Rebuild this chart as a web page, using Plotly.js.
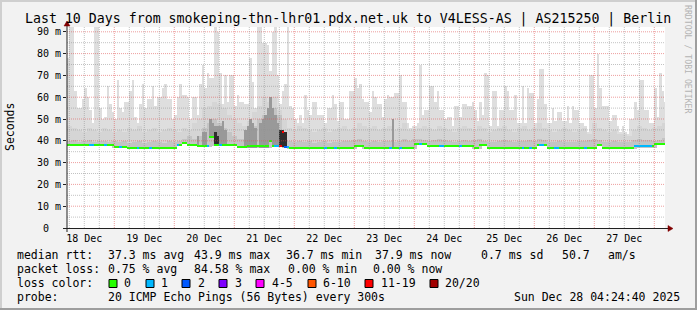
<!DOCTYPE html>
<html><head><meta charset="utf-8">
<script src="https://cdn.plot.ly/plotly-3.0.1.min.js"></script>
<style>html,body{margin:0;padding:0;background:#f2f2f2;}#chart{width:697px;height:310px;}</style>
</head><body><div id="chart"></div>
<script>
// ---------- data (hourly columns start at Dec 18 05:00) ----------
const firstHour = 5; // hours after 2025-12-18 00:00
const median = [
 37.9,37.9,37.9,37.9,37.9,37.9,37.9,37.9,37.9,37.9,37.9,37.9,37.9,37.9,37.9,37.9,37.9,37.9,37.9,37.2,37.2,37.2,37.2,37.2,
 36.8,36.8,36.8,36.8,36.8,36.8,36.8,36.8,36.8,36.8,36.8,36.8,36.8,36.8,36.8,36.8,36.8,36.8,36.8,36.8,38.2,38.2,39.2,39.2,
 38.0,38.0,38.0,38.0,37.7,37.7,37.7,37.7,37.7,41.6,41.6,37.9,37.9,37.9,37.9,37.9,37.9,37.9,37.9,37.9,37.1,37.1,37.1,37.1,
 37.4,37.4,37.4,37.4,37.4,37.4,37.4,37.4,37.4,40.1,37.7,37.7,37.7,37.6,43.9,37.3,37.0,36.8,36.8,36.8,36.8,36.8,36.8,36.8,
 36.8,36.8,36.8,36.8,36.8,36.8,36.8,36.8,36.8,36.8,36.8,36.8,36.8,36.8,36.8,36.8,36.8,36.8,36.8,37.7,37.7,37.7,37.7,36.8,
 36.8,36.8,36.8,36.8,36.8,36.8,36.8,36.8,36.8,36.8,36.8,36.8,36.8,36.8,36.8,36.8,36.8,36.8,36.8,38.7,38.7,38.7,38.7,38.7,
 37.6,37.6,37.6,37.6,37.6,37.6,37.6,37.6,37.6,37.6,37.6,37.6,37.6,37.6,37.6,37.6,37.6,37.6,37.6,36.8,36.8,37.9,37.9,37.9,
 36.8,36.8,36.8,36.8,36.8,36.8,36.8,36.8,36.8,36.8,36.8,36.8,36.8,36.8,36.8,36.8,36.8,36.8,36.8,36.8,38.0,38.0,38.0,38.0,
 36.8,36.8,36.8,36.8,36.8,36.8,36.8,36.8,36.8,36.8,36.8,36.8,36.8,36.8,36.8,36.8,36.8,36.8,36.8,36.8,37.9,37.9,36.8,36.8,
 36.8,36.8,36.8,36.8,36.8,36.8,36.8,36.8,36.8,36.8,36.8,37.4,37.4,37.4,37.4,37.4,37.4,37.4,37.4,38.5,38.5,38.5,38.5,38.5
];
const loss = [
 0,0,0,0,0,0,0,0,0,1,1,0,0,0,0,1,0,0,0,0,0,1,0,0,
 0,0,0,0,1,0,0,0,0,1,0,0,0,0,0,0,0,0,0,0,1,0,0,0,
 0,0,0,0,0,0,0,0,1,0,0,0,0,1,0,0,0,0,0,0,0,0,0,0,
 0,0,0,0,0,0,0,0,0,0,0,1,1,12,17,2,1,0,0,0,0,0,0,0,
 0,0,0,0,0,0,0,1,0,0,0,1,0,0,0,0,0,0,0,0,0,0,0,0,
 0,0,0,0,0,0,0,0,0,1,0,0,0,1,0,0,0,0,0,0,0,1,0,0,
 0,0,0,0,0,1,1,0,0,0,0,0,0,1,0,0,0,0,0,0,0,0,0,0,
 0,0,0,0,0,0,0,0,0,0,0,0,0,0,1,0,0,1,0,0,0,1,1,0,
 0,0,0,1,1,0,0,0,0,0,0,0,0,0,0,1,0,0,0,0,0,0,0,0,
 0,0,0,0,0,0,0,0,0,0,0,1,1,1,1,1,1,1,0,0,0,0,0,0
];
const smokeMax = [
 78,92,92,63,55,55,59,64,60,54,48,92,92,55,50,51,65,57,53,50,68,55,53,58,
 58,63,68,51,48,57,66,55,59,59,65,56,60,60,64,66,59,59,50,52,60,66,61,61,
 60,50,60,60,52,66,75,64,71,69,69,92,90,71,57,70,58,70,70,56,61,58,58,57,
 57,78,67,55,92,92,85,85,84,72,90,92,70,57,63,66,92,56,55,50,48,52,48,61,
 54,52,58,58,52,52,52,48,55,55,61,57,49,58,58,50,50,63,63,69,64,66,59,58,
 58,53,63,60,57,57,51,59,61,60,60,62,62,70,58,58,48,46,47,47,48,75,52,54,
 54,65,65,58,63,54,54,50,51,51,47,56,56,51,57,57,56,56,58,54,49,58,52,71,
 70,47,63,63,47,54,54,65,63,54,54,61,48,48,65,48,64,62,62,48,59,73,73,57,
 48,48,55,49,53,53,49,49,56,48,56,54,54,48,48,47,44,70,70,55,80,64,56,56,
 56,49,52,52,47,44,47,44,43,50,50,58,54,68,68,54,54,48,48,64,51,71,63,58
];
// two-hour columns (start at Dec 18 05:00)
const smokeMid = [
 47,46,45,44,46,45,44,46,45,44,
 45,44,46,45,47,44,45,46,44,45,
 46,45,44,46,45,48,50,55,56,58,
 57,55,52,50,48,47,49,53,56,60,
 58,60,54,50,46,45,47,46,45,44,
 45,46,44,45,46,47,45,46,48,47,
 46,47,45,46,47,45,46,48,45,45,
 46,47,46,45,47,46,45,44,46,47,
 46,45,47,46,44,45,46,47,45,44,
 46,47,45,46,48,46,45,44,45,46,
 45,44,45,46,43,48,46,45,44,45,
 43,43,42,45,47,46,45,46,47,48
];
const smokeLow = [
 40,40.5,39.5,40,40.5,39.5,40,40,39.5,40,
 39.5,40,39,39.5,40,39,39.5,40,39.5,39,
 40,39.5,40,41,42,41,42,46,48,50,
 48,46,44,42,41,41,43,47,50,52,
 50,55,52,42,40,39.5,40,39.5,40,39,
 39.5,40,39,39.5,39.5,40,40,40.5,41,40,
 39.5,40,39.5,40,40,39.5,40,41,40,41,
 41,40.5,40,40.5,41,40.5,40,39.5,40,40.5,
 40,40.5,41,40,39.5,39.5,40,40.5,40,39.5,
 40,40,40.5,40,41,40.5,39.5,39.5,40,39.5,
 39.5,39.5,40,40,40.5,41,40.5,39.5,39.5,40,
 39.5,39.5,39.5,40.5,41,40.5,40.5,40,40.5,41.5
];
const darkHours = [57,59,60,62,63,64,65,66,67,68,76,77,78,79,80,82,83,84,85,86,87,88,89,135];
const darkTop   = [42,44,44,50,48,47,47,47,49,45,45,47,50,48,46,48,50,52,55,60,55,52,48,50];
const blackHours = [64,65,90,91,92];
const blackBottom = [38,38,37,37,37];
const blackTop    = [44,42,45,45,44];

const dayTicks  = ['2025-12-18','2025-12-19','2025-12-20','2025-12-21','2025-12-22','2025-12-23','2025-12-24','2025-12-25','2025-12-26','2025-12-27'];
const dayLabels = ['18 Dec','19 Dec','20 Dec','21 Dec','22 Dec','23 Dec','24 Dec','25 Dec','26 Dec','27 Dec'];
const yTicks  = [0,10,20,30,40,50,60,70,80,90];
const yLabels = ['0<span style="color:rgba(0,0,0,0)"> m</span>','10 m','20 m','30 m','40 m','50 m','60 m','70 m','80 m','90 m'];

const lossNames  = ['0','1','2','3','4-5','6-10','11-19','20/20'];
const lossColors = ['#26ff00','#00b8ff','#0059ff','#7e00ff','#ff00ff','#ff5500','#ff0000','#a10000'];

const titleText = 'Last 10 Days from smokeping-thn-lhr01.pdx.net.uk to V4LESS-AS | AS215250 | Berlin';
const rttStats  = ['median rtt:','37.3 ms avg','43.9 ms max','36.7 ms min','37.9 ms now','0.7 ms sd','50.7','am/s'];
const lossStats = ['packet loss:','0.75 % avg','84.58 % max','0.00 % min','0.00 % now'];
const probeText = ['probe:','20 ICMP Echo Pings (56 Bytes) every 300s','Sun Dec 28 04:24:40 2025'];

// ---------- helpers ----------
const H0 = Date.UTC(2025, 11, 18);
function t(h){ return new Date(H0 + h*3600000).toISOString().slice(0,19).replace('T',' '); }
function lossIdx(n){ if(n<=0)return 0; if(n===1)return 1; if(n===2)return 2; if(n===3)return 3; if(n<=5)return 4; if(n<=10)return 5; if(n<=19)return 6; return 7; }
const L=67, R=665, T=27, B=228;
const PX = x => (x-L)/(R-L);
const PY = y => (B-y)/(B-T);
const MONO = 'DejaVu Sans Mono, monospace';

// ---------- traces ----------
const hx = median.map((_,i)=>t(firstHour+i+0.5));
const hb = median.map(m=>m-0.5);
function bar(x, base, top, color, width){
  return {type:'bar', x:x, base:base, y:top.map((v,i)=>v-base[i]), width:width,
    marker:{color:color, line:{width:0}}, hoverinfo:'skip', showlegend:false};
}
const x2 = smokeMid.map((_,j)=>t(firstHour+2*j+1));
const b2 = smokeMid.map((_,j)=>Math.min(median[2*j], median[Math.min(2*j+1,median.length-1)])-0.5);
const traces = [
  bar(hx, hb, smokeMax, '#dedede', 3600000),
  bar(x2, b2, smokeMid, '#d5d5d5', 7200000),
  bar(x2, b2, smokeLow, '#c4c4c4', 7200000),
  bar(darkHours.map(h=>t(h+0.5)), darkHours.map(h=>median[h-firstHour]-0.5), darkTop, '#999999', 3600000),
  bar(blackHours.map(h=>t(h+0.5)), blackBottom, blackTop, '#2e2e2e', 3600000),
  {type:'bar', x:hx, base:median.map(m=>m-0.47), y:median.map(()=>0.95), width:3600000,
   marker:{color:loss.map(n=>lossColors[lossIdx(n)]), line:{width:0}}, hoverinfo:'skip', showlegend:false}
];

// ---------- shapes ----------
const shapes = [];
const gridGray = 'rgba(143,143,143,0.55)', gridRed = 'rgba(222,79,79,0.55)';
for(let v=5; v<=90; v+=5){
  shapes.push({type:'line', layer:'above', xref:'paper', yref:'y', x0:0, x1:1, y0:v, y1:v,
    line:{color: v%10===0?gridRed:gridGray, width:1, dash:'1px,1px'}});
}
for(let h=6; h<=240; h+=6){
  shapes.push({type:'line', layer:'above', xref:'x', yref:'paper', x0:t(h), x1:t(h), y0:0, y1:1,
    line:{color: h%24===0?gridRed:gridGray, width:1, dash:'1px,1px'}});
}
// axes with arrows
shapes.push({type:'line', layer:'above', xref:'paper', yref:'paper', x0:PX(63), x1:PX(669), y0:PY(228.5), y1:PY(228.5), line:{color:'#212121', width:1}});
shapes.push({type:'line', layer:'above', xref:'paper', yref:'paper', x0:PX(67), x1:PX(67), y0:PY(232), y1:PY(25), line:{color:'#212121', width:1}});
shapes.push({type:'path', layer:'above', xref:'paper', yref:'paper',
  path:`M ${PX(668)} ${PY(225.5)} L ${PX(673)} ${PY(228.5)} L ${PX(668)} ${PY(231.5)} Z`, fillcolor:'#800000', line:{color:'#800000', width:0.5}});
shapes.push({type:'path', layer:'above', xref:'paper', yref:'paper',
  path:`M ${PX(64)} ${PY(26)} L ${PX(67)} ${PY(21)} L ${PX(70)} ${PY(26)} Z`, fillcolor:'#800000', line:{color:'#800000', width:0.5}});
// frame
shapes.push({type:'line', xref:'paper', yref:'paper', x0:PX(0), x1:PX(697), y0:PY(1), y1:PY(1), line:{color:'#cfcfcf', width:2}});
shapes.push({type:'line', xref:'paper', yref:'paper', x0:PX(1), x1:PX(1), y0:PY(0), y1:PY(310), line:{color:'#cfcfcf', width:2}});
shapes.push({type:'line', xref:'paper', yref:'paper', x0:PX(0), x1:PX(697), y0:PY(309), y1:PY(309), line:{color:'#9e9e9e', width:2}});
shapes.push({type:'line', xref:'paper', yref:'paper', x0:PX(696), x1:PX(696), y0:PY(0), y1:PY(310), line:{color:'#9e9e9e', width:2}});

// ---------- annotations ----------
const ann = [];
function txt(x, y, s, size, opts){
  ann.push(Object.assign({xref:'paper', yref:'paper', x:PX(x), y:PY(y), text:s, showarrow:false,
    xanchor:'left', yanchor:'middle', borderpad:0, font:{family:MONO, size:size, color:'#000'}}, opts||{}));
}
txt(348, 19, titleText, 13.25, {xanchor:'center'});
txt(10, 127, 'Seconds', 11.5, {xanchor:'center', textangle:-90});
txt(688, 59, 'RRDTOOL / TOBI OETIKER', 8.2, {xanchor:'center', textangle:90, font:{family:MONO, size:8.2, color:'#b4b4b4'}});
const rttX = [16,107,193,285,374,480,561,607];
rttStats.forEach((s,i)=>txt(rttX[i], 255, s, 11.5));
const lossX = [16,107,193,287,372];
lossStats.forEach((s,i)=>txt(lossX[i], 269, s, 11.5));
txt(16, 283, 'loss color:', 11.5);
const boxX = [109,146,182,219,256,308,365,430];
const lblX = [123,160,197,234,271,322,380,444];
lossNames.forEach((s,i)=>{
  txt(lblX[i], 283, s, 11.5);
  shapes.push({type:'rect', xref:'paper', yref:'paper', x0:PX(boxX[i]), x1:PX(boxX[i]+8), y0:PY(287.5), y1:PY(279.5),
    fillcolor:lossColors[i], line:{color:'#000', width:1}});
});
const probeX = [16,107,513];
probeText.forEach((s,i)=>txt(probeX[i], 297, s, 11.5));

const layout = {
  width:697, height:310, margin:{l:L, r:697-R, t:T, b:310-B},
  paper_bgcolor:'#f2f2f2', plot_bgcolor:'#ffffff',
  barmode:'overlay', bargap:0, showlegend:false, hovermode:false,
  xaxis:{type:'date', range:[t(5.08), t(244.28)], showgrid:false, zeroline:false, showline:false,
    tickmode:'array', tickvals:dayTicks.map(d=>d+' 12:00'), ticktext:dayLabels,
    ticks:'outside', ticklen:1, tickcolor:'rgba(0,0,0,0)',
    tickfont:{family:MONO, size:10, color:'#000'}},
  yaxis:{range:[0,92.2], showgrid:false, zeroline:false, showline:false,
    tickmode:'array', tickvals:yTicks, ticktext:yLabels,
    ticks:'outside', ticklen:3, tickcolor:'#212121',
    tickfont:{family:MONO, size:10, color:'#000'}},
  shapes:shapes, annotations:ann
};
Plotly.newPlot('chart', traces, layout, {staticPlot:true, displayModeBar:false});
</script>
</body></html>
